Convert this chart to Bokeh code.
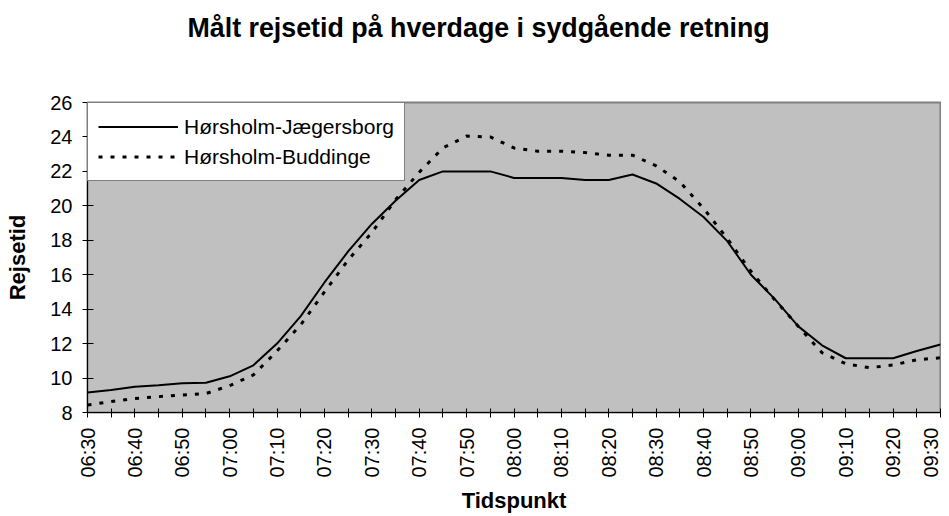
import math
from bokeh.plotting import figure
from bokeh.models import Range1d, FixedTicker, Legend, LegendItem, Title
from bokeh.embed import file_html
from bokeh.resources import INLINE

# ---- data ----
times = ["06:30", "06:35", "06:40", "06:45", "06:50", "06:55", "07:00", "07:05",
         "07:10", "07:15", "07:20", "07:25", "07:30", "07:35", "07:40", "07:45",
         "07:50", "07:55", "08:00", "08:05", "08:10", "08:15", "08:20", "08:25",
         "08:30", "08:35", "08:40", "08:45", "08:50", "08:55", "09:00", "09:05",
         "09:10", "09:15", "09:20", "09:25", "09:30"]

jaegersborg = [9.16, 9.3, 9.5, 9.58, 9.7, 9.73, 10.1, 10.74, 12.0, 13.6,
               15.55, 17.35, 18.95, 20.3, 21.5, 22.0, 22.0, 22.0, 21.62, 21.62,
               21.62, 21.5, 21.5, 21.82, 21.3, 20.4, 19.35, 17.95, 16.0, 14.6,
               13.0, 11.9, 11.15, 11.15, 11.15, 11.57, 11.95]

buddinge = [8.43, 8.64, 8.81, 8.92, 9.02, 9.1, 9.56, 10.18, 11.57, 13.1,
            15.0, 16.85, 18.45, 20.35, 21.95, 23.36, 24.05, 24.0, 23.36, 23.17,
            23.17, 23.09, 22.94, 22.94, 22.32, 21.39, 19.85, 18.1, 16.2, 14.55,
            13.0, 11.47, 10.83, 10.6, 10.76, 11.06, 11.18]

y_ticks = [8, 10, 12, 14, 16, 18, 20, 22, 24, 26]

title_text = "Målt rejsetid på hverdage i sydgående retning"
x_title = "Tidspunkt"
y_title = "Rejsetid"
series_names = ["Hørsholm-Jægersborg", "Hørsholm-Buddinge"]

FONT = "Liberation Sans"
x = list(range(len(times)))

p = figure(width=941, height=516,
           output_backend="svg", toolbar_location=None,
           x_range=Range1d(0, len(times) - 1), y_range=Range1d(y_ticks[0], y_ticks[-1]),
           min_border_left=87, min_border_top=102, min_border_right=1, min_border_bottom=104)

p.background_fill_color = "#C0C0C0"
p.border_fill_color = "white"
p.outline_line_color = "#808080"
p.outline_line_width = 2
p.xgrid.grid_line_color = None
p.ygrid.grid_line_color = None

# spacer between the title and the plot area
spacer = Title(text=" ", text_font_size="10px", standoff=42)
p.add_layout(spacer, "above")

# title
p.title.text = title_text
p.title.align = "left"
p.title.vertical_align = "bottom"
p.title.text_font = FONT
p.title.text_font_size = "26.8px"
p.title.text_font_style = "bold"
p.title.text_color = "black"
p.title.offset = 100
p.title.standoff = 10

# x axis
xa = p.xaxis[0]
xa.ticker = FixedTicker(ticks=x)
xa.major_label_overrides = {i: (t if i % 2 == 0 else "") for i, t in enumerate(times)}
xa.major_label_orientation = math.pi / 2
xa.major_label_text_font = FONT
xa.major_label_text_font_size = "20px"
xa.major_label_text_color = "black"
xa.major_label_standoff = 10
xa.major_tick_in = 4
xa.major_tick_out = 5
xa.minor_tick_line_color = None
xa.axis_line_color = "black"
xa.major_tick_line_color = "black"
xa.axis_label = x_title
xa.axis_label_text_font = FONT
xa.axis_label_text_font_size = "22px"
xa.axis_label_text_font_style = "bold"
xa.axis_label_text_color = "black"
xa.axis_label_standoff = 7

# y axis
ya = p.yaxis[0]
ya.ticker = FixedTicker(ticks=y_ticks)
ya.major_label_text_font = FONT
ya.major_label_text_font_size = "20px"
ya.major_label_text_color = "black"
ya.major_label_standoff = 10
ya.major_tick_in = 6
ya.major_tick_out = 5
ya.minor_tick_line_color = None
ya.axis_line_color = "black"
ya.major_tick_line_color = "black"
ya.axis_label = y_title
ya.axis_label_text_font = FONT
ya.axis_label_text_font_size = "22px"
ya.axis_label_text_font_style = "bold"
ya.axis_label_text_color = "black"
ya.axis_label_standoff = 17

r1 = p.line(x, jaegersborg, line_color="black", line_width=2)
r2 = p.line(x, buddinge, line_color="black", line_width=3, line_dash="4 8")

legend = Legend(items=[LegendItem(label=series_names[0], renderers=[r1]),
                       LegendItem(label=series_names[1], renderers=[r2])],
                location="top_left", margin=0, padding=10, spacing=3,
                glyph_width=80, glyph_height=27, label_standoff=6,
                label_text_font=FONT, label_text_font_size="21px",
                label_text_color="black",
                border_line_color="black", border_line_width=1,
                background_fill_color="white", background_fill_alpha=1)
p.add_layout(legend)

open("out.html", "w").write(file_html(p, INLINE))
